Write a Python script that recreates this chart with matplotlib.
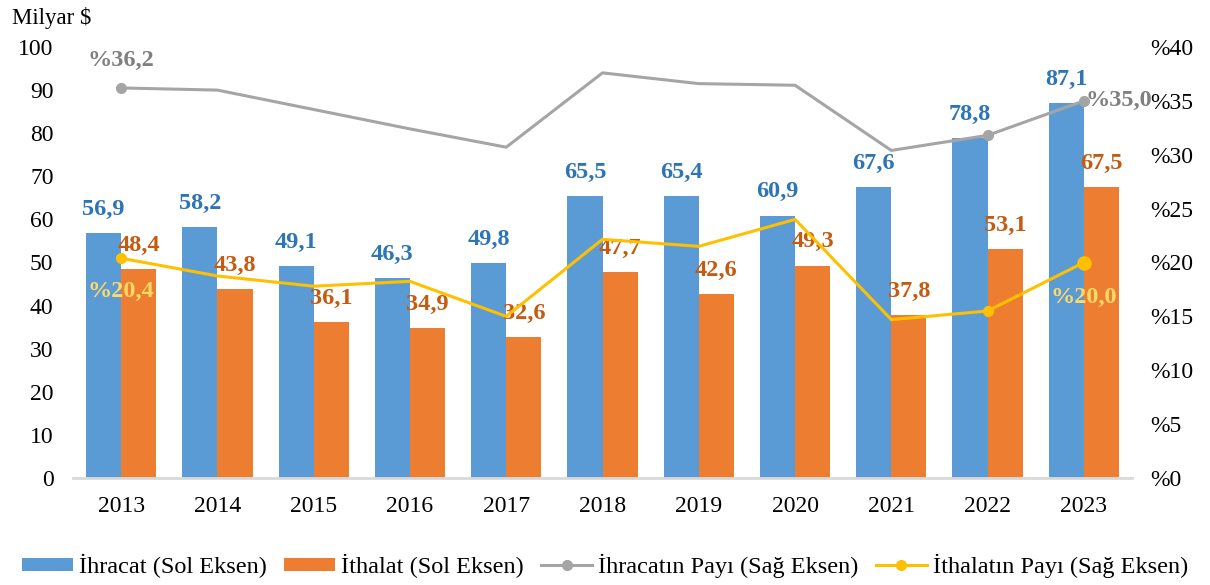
import matplotlib
matplotlib.use("Agg")
import matplotlib.pyplot as plt
from matplotlib.patches import Patch
from matplotlib.lines import Line2D
import numpy as np

years = ["2013", "2014", "2015", "2016", "2017", "2018", "2019", "2020", "2021", "2022", "2023"]
ihracat = [56.9, 58.2, 49.1, 46.3, 49.8, 65.5, 65.4, 60.9, 67.6, 78.8, 87.1]
ithalat = [48.4, 43.8, 36.1, 34.9, 32.6, 47.7, 42.6, 49.3, 37.8, 53.1, 67.5]
ihracat_payi = [36.2, 36.0, 34.2, 32.4, 30.7, 37.6, 36.6, 36.45, 30.4, 31.8, 35.0]
ithalat_payi = [20.4, 18.75, 17.8, 18.25, 15.0, 22.15, 21.5, 24.0, 14.7, 15.5, 20.0]
left_ticks = [0, 10, 20, 30, 40, 50, 60, 70, 80, 90, 100]
right_ticks = [0, 5, 10, 15, 20, 25, 30, 35, 40]

plt.rcParams['font.family'] = ['Liberation Serif', 'DejaVu Serif']

C_BLUE = "#5B9BD5"
C_ORANGE = "#ED7D31"
C_GRAY = "#A5A5A5"
C_YELLOW = "#FFC000"
L_BLUE = "#2E75B6"
L_ORANGE = "#C55A11"
L_GRAY = "#7F7F7F"
L_YELLOW = "#FFD966"

fig = plt.figure(figsize=(12.1, 5.85), dpi=100)
ax = fig.add_axes([73/1210, 1 - 478/585, (1132-73)/1210, (478-47)/585])
ax2 = ax.twinx()

x = np.arange(len(years))
w = 0.365
ax.bar(x - w/2, ihracat, w, color=C_BLUE, zorder=2)
ax.bar(x + w/2, ithalat, w, color=C_ORANGE, zorder=2)

fmt = lambda v: f"{v:.1f}".replace(".", ",")
for xi, v in zip(x, ihracat):
    ax.annotate(fmt(v), (xi - w/2, v), xytext=(0, 17), textcoords="offset points",
                ha="center", va="center", fontsize=17.5, fontweight="bold", color=L_BLUE, zorder=5)
for xi, v in zip(x, ithalat):
    ax.annotate(fmt(v), (xi + w/2, v), xytext=(0, 17), textcoords="offset points",
                ha="center", va="center", fontsize=17.5, fontweight="bold", color=L_ORANGE, zorder=5)

ax.set_xlim(-0.5, len(years) - 0.5)
ax.set_ylim(0, 100)
ax.set_yticks(left_ticks)
ax.set_xticks(x)
ax.set_xticklabels(years)
ax.tick_params(axis="both", length=0, labelsize=17)
ax.tick_params(axis="y", pad=14)
ax.tick_params(axis="x", pad=13)

ax2.set_ylim(0, 40)
ax2.set_yticks(right_ticks)
ax2.set_yticklabels([f"%{t}" for t in right_ticks])
ax2.tick_params(axis="y", length=0, labelsize=17, pad=13)

mk = [0, 9, 10]
ax2.plot(x, ihracat_payi, color=C_GRAY, lw=2.2, marker="o", markersize=7, markevery=mk, zorder=3)
ax2.plot(x, ithalat_payi, color=C_YELLOW, lw=2.2, marker="o", markersize=7, markevery=mk, zorder=3)
ax2.plot([x[-1]], [ithalat_payi[-1]], "o", color=C_YELLOW, markersize=9.5, zorder=3)

ax2.annotate("%" + fmt(ihracat_payi[0]), (x[0], ihracat_payi[0]), xytext=(0, 20), textcoords="offset points",
             ha="center", va="center", fontsize=17.5, fontweight="bold", color=L_GRAY)
ax2.annotate("%" + fmt(ihracat_payi[-1]), (x[-1], ihracat_payi[-1]), xytext=(1, 0), textcoords="offset points",
             ha="left", va="center", fontsize=17.5, fontweight="bold", color=L_GRAY)
ax2.annotate("%" + fmt(ithalat_payi[0]), (x[0], ithalat_payi[0]), xytext=(0, -24), textcoords="offset points",
             ha="center", va="center", fontsize=17.5, fontweight="bold", color=L_YELLOW)
ax2.annotate("%" + fmt(ithalat_payi[-1]), (x[-1], ithalat_payi[-1]), xytext=(0, -25), textcoords="offset points",
             ha="center", va="center", fontsize=17.5, fontweight="bold", color=L_YELLOW)

for a in (ax, ax2):
    for s in ("top", "left", "right"):
        a.spines[s].set_visible(False)
ax2.spines["bottom"].set_visible(False)
ax.spines["bottom"].set_color("#D9D9D9")
ax.spines["bottom"].set_linewidth(2)

fig.text(12/1210, 1 - 18/585, "Milyar $", fontsize=16.5, ha="left", va="center")

handles = [
    Patch(facecolor=C_BLUE),
    Patch(facecolor=C_ORANGE),
    Line2D([0], [0], color=C_GRAY, lw=2.2, marker="o", markersize=7),
    Line2D([0], [0], color=C_YELLOW, lw=2.2, marker="o", markersize=7),
]
labels = ["İhracat (Sol Eksen)", "İthalat (Sol Eksen)", "İhracatın Payı (Sağ Eksen)", "İthalatın Payı (Sağ Eksen)"]
fig.legend(handles, labels, loc="center", bbox_to_anchor=(0.5, 1 - 566/585), ncol=4, frameon=False,
           fontsize=17.5, handlelength=2.1, handleheight=0.5, handletextpad=0.25, columnspacing=0.7)

fig.savefig("out.png", dpi=100)
